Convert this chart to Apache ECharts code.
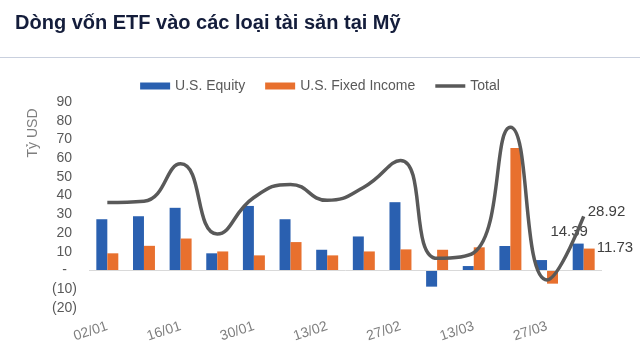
<!DOCTYPE html>
<html>
<head>
<meta charset="utf-8">
<script src="https://cdn.jsdelivr.net/npm/echarts@6/dist/echarts.min.js"></script>
<style>
html,body{margin:0;padding:0;background:#fff;}
#chart{width:640px;height:360px;}
</style>
</head>
<body>
<div id="chart"></div>
<script>
var categories = ['02/01','09/01','16/01','23/01','30/01','06/02','13/02','20/02','27/02','06/03','13/03','20/03','27/03','03/04'];
var equity = [27.4, 29.0, 33.5, 9.2, 34.5, 27.4, 11.1, 18.2, 36.5, -8.6, 2.4, 13.1, 5.6, 14.39];
var fixedIncome = [9.2, 13.2, 17.1, 10.2, 8.1, 15.2, 8.1, 10.2, 11.3, 11.1, 12.4, 65.4, -7.0, 11.73];
var total = [36.3, 37.0, 57.0, 19.5, 39.0, 46.0, 37.5, 44.5, 58.8, 6.5, 9.5, 76.5, -5.0, 28.92];
var yTicks = {min: -20, max: 90, interval: 10};

var chart = echarts.init(document.getElementById('chart'), null, {renderer: 'canvas'});
var font = 'Liberation Sans, Arial, sans-serif';
var last = categories.length - 1;

function lastLabel(arr, label) {
  return arr.map(function (v, i) {
    if (i === last) return {value: v, label: label};
    return v;
  });
}

var option = {
  animation: false,
  backgroundColor: '#ffffff',
  textStyle: {fontFamily: font},
  title: {
    text: 'Dòng vốn ETF vào các loại tài sản tại Mỹ',
    left: 10, top: 8,
    textStyle: {fontFamily: font, fontSize: 20, fontWeight: 'bold', color: '#141d3b'}
  },
  legend: {
    top: 74, left: 'center',
    itemWidth: 30, itemHeight: 7, itemGap: 20,
    textStyle: {fontFamily: font, fontSize: 14, color: '#595959'},
    data: [
      {name: 'U.S. Equity', icon: 'rect'},
      {name: 'U.S. Fixed Income', icon: 'rect'},
      {name: 'Total', icon: 'path://M0,0h30v3.5h-30z'}
    ]
  },
  graphic: [
    {type: 'line', shape: {x1: 0, y1: 57.5, x2: 640, y2: 57.5}, style: {stroke: '#c9d0de', lineWidth: 1}},
    {type: 'text', x: 33, y: 133, rotation: Math.PI / 2,
     style: {text: 'Tỷ USD', fill: '#7f7f7f', font: '14px ' + font, align: 'center', verticalAlign: 'middle'}}
  ],
  grid: {left: 89, right: 38, top: 102, bottom: 52},
  xAxis: {
    type: 'category',
    data: categories,
    axisLine: {show: false, onZero: false},
    axisTick: {show: false},
    axisLabel: {interval: 1, rotate: 18, margin: 18, fontSize: 14, color: '#7f7f7f', fontFamily: font}
  },
  yAxis: {
    type: 'value',
    min: yTicks.min, max: yTicks.max, interval: yTicks.interval,
    axisLine: {show: false}, axisTick: {show: false}, splitLine: {show: false},
    axisLabel: {
      margin: 12, fontSize: 14, color: '#595959', fontFamily: font,
      formatter: function (v) {
        if (v > 0) return '{p|' + v + '}';
        if (v === 0) return '{z|-}';
        return '{n|(' + (-v) + ')}';
      },
      rich: {
        p: {padding: [0, 5, 0, 0], fontSize: 14, color: '#595959', fontFamily: font},
        z: {padding: [0, 10, 0, 0], fontSize: 14, color: '#595959', fontFamily: font},
        n: {fontSize: 14, color: '#595959', fontFamily: font}
      }
    }
  },
  series: [
    {
      name: 'U.S. Equity', type: 'bar',
      barGap: '0%', barCategoryGap: '40%',
      itemStyle: {color: '#2a60b0'},
      data: lastLabel(equity, {show: true, position: 'top', distance: 4, offset: [-9, 0],
        fontSize: 15, color: '#404040', fontFamily: font}),
      markLine: {
        silent: true, symbol: 'none', label: {show: false},
        lineStyle: {color: '#d9d9d9', width: 1, type: 'solid'},
        data: [{yAxis: 0}]
      }
    },
    {
      name: 'U.S. Fixed Income', type: 'bar',
      itemStyle: {color: '#e8702e'},
      data: lastLabel(fixedIncome, {show: true, position: 'right', distance: 2, offset: [0, -12],
        fontSize: 15, color: '#404040', fontFamily: font})
    },
    {
      name: 'Total', type: 'line', smooth: 0.5,
      symbol: 'circle', symbolSize: 0.1, showSymbol: true,
      lineStyle: {color: '#595959', width: 3.5},
      itemStyle: {color: '#595959'},
      data: lastLabel(total, {show: true, position: 'right', distance: 4, offset: [0, -5],
        fontSize: 15, color: '#404040', fontFamily: font}),
      z: 5
    }
  ]
};
chart.setOption(option);
</script>
</body>
</html>
